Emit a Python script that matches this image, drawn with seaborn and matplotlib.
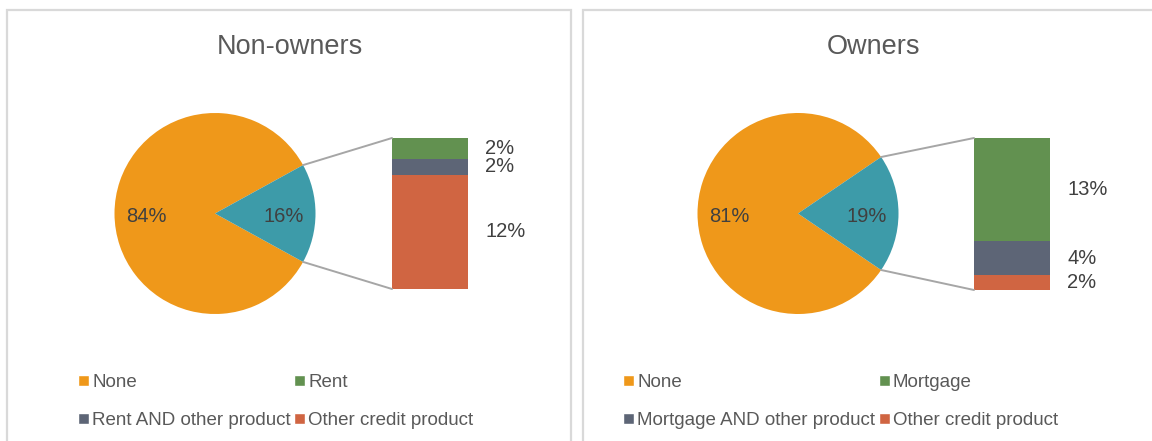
import matplotlib
matplotlib.use("Agg")
import matplotlib.pyplot as plt
from matplotlib.patches import Rectangle, Patch, ConnectionPatch
import numpy as np
import seaborn as sns

# ---------------- data ----------------
panel_titles = ["Non-owners", "Owners"]
none_share = [84, 81]
nonowner_labels = ["Rent", "Rent AND other product", "Other credit product"]
nonowner_values = [2.2, 1.7, 12.1]
owner_labels = ["Mortgage", "Mortgage AND other product", "Other credit product"]
owner_values = [12.9, 4.2, 1.9]
none_label = "None"

# ---------------- style ----------------
sns.set_theme(style="white")
plt.rcParams["font.family"] = ["Liberation Sans", "DejaVu Sans"]
palette = sns.color_palette(["#EF981A", "#3D9BA9", "#629150", "#5D6576", "#D06542"])
c_none, c_other, c_top, c_mid, c_bot = palette
title_col = "#595959"
label_col = "#404040"
line_col = "#A6A6A6"
border_col = "#D9D9D9"

W, H = 1152, 441
fig = plt.figure(figsize=(W / 100, H / 100), dpi=100)
fig.patch.set_facecolor("white")


def rect(x0, y0, x1, y1):
    return [x0 / W, 1 - y1 / H, (x1 - x0) / W, (y1 - y0) / H]


def fx(x):
    return x / W


def fy(y):
    return 1 - y / H


# panel borders
for x0, x1 in [(7, 571), (583, 1165)]:
    fig.patches.append(Rectangle((fx(x0), fy(460)), fx(x1) - fx(x0), fy(10) - fy(460),
                                 transform=fig.transFigure, fill=False,
                                 edgecolor=border_col, linewidth=1.6, zorder=0))

panels = [
    dict(title_x=290, pie=(114.5, 113, 315.5, 314), bar=(392, 138, 468, 289),
         legend_x=78, labels=nonowner_labels, values=nonowner_values, none=none_share[0],
         title=panel_titles[0]),
    dict(title_x=874, pie=(697.5, 113, 898.5, 314), bar=(974, 138, 1050, 290),
         legend_x=623, labels=owner_labels, values=owner_values, none=none_share[1],
         title=panel_titles[1]),
]

for p in panels:
    fig.text(fx(p["title_x"]), fy(47), p["title"], ha="center", va="center",
             fontsize=19.5, color=title_col)

    other = float(np.sum(p["values"]))
    frac = other / (other + p["none"])
    half = 360 * frac / 2

    axp = fig.add_axes(rect(*p["pie"]))
    wedges, texts, autotexts = axp.pie(
        [p["none"], other], colors=[c_none, c_other], startangle=half,
        counterclock=True, radius=1, autopct="%.0f%%", pctdistance=0.685,
        wedgeprops=dict(linewidth=0),
        textprops=dict(fontsize=14.5, color=label_col))
    for t in autotexts:
        x, y = t.get_position()
        t.set_position((x, y - 0.03))
    axp.set_xlim(-1, 1)
    axp.set_ylim(-1, 1)
    axp.set_aspect("auto")
    axp.axis("off")

    # stacked bar (bottom -> top : other credit, AND other, main)
    axb = fig.add_axes(rect(*p["bar"]))
    vals = p["values"]
    order = [2, 1, 0]
    cols = {0: c_top, 1: c_mid, 2: c_bot}
    bottom = 0.0
    for i in order:
        axb.bar(0, vals[i], bottom=bottom, width=1.0, color=cols[i], linewidth=0)
        axb.annotate(f"{vals[i]:.0f}%", (0.5, bottom + vals[i] / 2), xytext=(12.5, 0),
                     textcoords="offset points", ha="left", va="center",
                     fontsize=14.5, color=label_col, annotation_clip=False)
        bottom += vals[i]
    axb.set_xlim(-0.5, 0.5)
    axb.set_ylim(0, bottom)
    axb.axis("off")

    # connector lines
    th = np.deg2rad(half)
    for sgn, yb in [(1, bottom), (-1, 0)]:
        con = ConnectionPatch(xyA=(np.cos(th), sgn * np.sin(th)), coordsA=axp.transData,
                              xyB=(-0.5, yb), coordsB=axb.transData,
                              color=line_col, linewidth=1.4)
        fig.add_artist(con)

    # legend (row-wise order as in reference)
    h_none = Patch(facecolor=c_none, label=none_label)
    h_top = Patch(facecolor=c_top, label=p["labels"][0])
    h_mid = Patch(facecolor=c_mid, label=p["labels"][1])
    h_bot = Patch(facecolor=c_bot, label=p["labels"][2])
    leg = fig.legend(handles=[h_none, h_mid, h_top, h_bot], ncol=2, loc="upper left",
                     bbox_to_anchor=(fx(p["legend_x"]), fy(374)), frameon=False,
                     fontsize=13.5, handlelength=0.58, handleheight=0.55,
                     handletextpad=0.17, columnspacing=0.2, labelspacing=1.12,
                     borderpad=0, borderaxespad=0)
    for t in leg.get_texts():
        t.set_color(title_col)

fig.savefig("out.png", dpi=100, facecolor="white")
